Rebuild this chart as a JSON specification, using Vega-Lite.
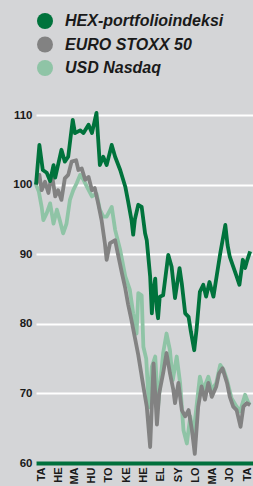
{
  "$schema": "https://vega.github.io/schema/vega-lite/v6.json",
  "autosize": {"type": "none"},
  "padding": {"left": 36, "top": 115, "right": 0, "bottom": 23},
  "width": 217,
  "height": 348,
  "background": "#d4d5d7",
  "config": {"view": {"stroke": null}},
  "data": {"values": [
    {"s":"USD Nasdaq","d":"2002-01-01","v":100},
    {"s":"USD Nasdaq","d":"2002-01-06","v":99},
    {"s":"USD Nasdaq","d":"2002-01-11","v":96.8},
    {"s":"USD Nasdaq","d":"2002-01-14","v":94.9},
    {"s":"USD Nasdaq","d":"2002-01-20","v":95.9},
    {"s":"USD Nasdaq","d":"2002-01-26","v":97.3},
    {"s":"USD Nasdaq","d":"2002-02-01","v":94.4},
    {"s":"USD Nasdaq","d":"2002-02-07","v":96.4},
    {"s":"USD Nasdaq","d":"2002-02-12","v":94.9},
    {"s":"USD Nasdaq","d":"2002-02-18","v":93},
    {"s":"USD Nasdaq","d":"2002-02-24","v":94.4},
    {"s":"USD Nasdaq","d":"2002-03-02","v":97.8},
    {"s":"USD Nasdaq","d":"2002-03-08","v":99.2},
    {"s":"USD Nasdaq","d":"2002-03-14","v":100.2},
    {"s":"USD Nasdaq","d":"2002-03-20","v":101.4},
    {"s":"USD Nasdaq","d":"2002-03-26","v":100.7},
    {"s":"USD Nasdaq","d":"2002-04-01","v":99.7},
    {"s":"USD Nasdaq","d":"2002-04-10","v":98.3},
    {"s":"USD Nasdaq","d":"2002-04-18","v":98.7},
    {"s":"USD Nasdaq","d":"2002-04-24","v":96.4},
    {"s":"USD Nasdaq","d":"2002-04-30","v":95.4},
    {"s":"USD Nasdaq","d":"2002-05-06","v":95.4},
    {"s":"USD Nasdaq","d":"2002-05-15","v":96.8},
    {"s":"USD Nasdaq","d":"2002-05-21","v":93.5},
    {"s":"USD Nasdaq","d":"2002-05-30","v":90.6},
    {"s":"USD Nasdaq","d":"2002-06-08","v":86.8},
    {"s":"USD Nasdaq","d":"2002-06-16","v":84.9},
    {"s":"USD Nasdaq","d":"2002-06-22","v":81.5},
    {"s":"USD Nasdaq","d":"2002-06-28","v":78.6},
    {"s":"USD Nasdaq","d":"2002-07-01","v":84.4},
    {"s":"USD Nasdaq","d":"2002-07-07","v":84.1},
    {"s":"USD Nasdaq","d":"2002-07-10","v":76.7},
    {"s":"USD Nasdaq","d":"2002-07-15","v":75},
    {"s":"USD Nasdaq","d":"2002-07-20","v":68},
    {"s":"USD Nasdaq","d":"2002-07-25","v":73.8},
    {"s":"USD Nasdaq","d":"2002-07-31","v":75.3},
    {"s":"USD Nasdaq","d":"2002-08-05","v":68.1},
    {"s":"USD Nasdaq","d":"2002-08-14","v":75.8},
    {"s":"USD Nasdaq","d":"2002-08-20","v":78.6},
    {"s":"USD Nasdaq","d":"2002-08-26","v":76.2},
    {"s":"USD Nasdaq","d":"2002-08-31","v":71.9},
    {"s":"USD Nasdaq","d":"2002-09-07","v":75.3},
    {"s":"USD Nasdaq","d":"2002-09-13","v":71.5},
    {"s":"USD Nasdaq","d":"2002-09-19","v":64.7},
    {"s":"USD Nasdaq","d":"2002-09-25","v":62.8},
    {"s":"USD Nasdaq","d":"2002-10-01","v":66.7},
    {"s":"USD Nasdaq","d":"2002-10-06","v":63.8},
    {"s":"USD Nasdaq","d":"2002-10-12","v":68.1},
    {"s":"USD Nasdaq","d":"2002-10-18","v":72.4},
    {"s":"USD Nasdaq","d":"2002-10-24","v":70.5},
    {"s":"USD Nasdaq","d":"2002-11-02","v":72.4},
    {"s":"USD Nasdaq","d":"2002-11-08","v":70.5},
    {"s":"USD Nasdaq","d":"2002-11-16","v":71.5},
    {"s":"USD Nasdaq","d":"2002-11-23","v":74.1},
    {"s":"USD Nasdaq","d":"2002-11-29","v":73.4},
    {"s":"USD Nasdaq","d":"2002-12-05","v":71.9},
    {"s":"USD Nasdaq","d":"2002-12-13","v":69.3},
    {"s":"USD Nasdaq","d":"2002-12-22","v":68.1},
    {"s":"USD Nasdaq","d":"2002-12-28","v":67.4},
    {"s":"USD Nasdaq","d":"2003-01-06","v":69.8},
    {"s":"USD Nasdaq","d":"2003-01-12","v":68.6},
    {"s":"USD Nasdaq","d":"2003-01-15","v":68.8},

    {"s":"EURO STOXX 50","d":"2002-01-01","v":100},
    {"s":"EURO STOXX 50","d":"2002-01-07","v":101.4},
    {"s":"EURO STOXX 50","d":"2002-01-11","v":99.2},
    {"s":"EURO STOXX 50","d":"2002-01-17","v":100.4},
    {"s":"EURO STOXX 50","d":"2002-01-23","v":98.8},
    {"s":"EURO STOXX 50","d":"2002-01-29","v":101.6},
    {"s":"EURO STOXX 50","d":"2002-02-04","v":98.3},
    {"s":"EURO STOXX 50","d":"2002-02-09","v":99.2},
    {"s":"EURO STOXX 50","d":"2002-02-15","v":97.8},
    {"s":"EURO STOXX 50","d":"2002-02-21","v":100.9},
    {"s":"EURO STOXX 50","d":"2002-02-27","v":101.4},
    {"s":"EURO STOXX 50","d":"2002-03-05","v":103.3},
    {"s":"EURO STOXX 50","d":"2002-03-13","v":103.5},
    {"s":"EURO STOXX 50","d":"2002-03-17","v":102.1},
    {"s":"EURO STOXX 50","d":"2002-03-23","v":102.3},
    {"s":"EURO STOXX 50","d":"2002-03-29","v":100.7},
    {"s":"EURO STOXX 50","d":"2002-04-04","v":101.1},
    {"s":"EURO STOXX 50","d":"2002-04-10","v":99.2},
    {"s":"EURO STOXX 50","d":"2002-04-15","v":99.5},
    {"s":"EURO STOXX 50","d":"2002-04-21","v":97.3},
    {"s":"EURO STOXX 50","d":"2002-04-27","v":94.9},
    {"s":"EURO STOXX 50","d":"2002-05-03","v":91.5},
    {"s":"EURO STOXX 50","d":"2002-05-06","v":89.2},
    {"s":"EURO STOXX 50","d":"2002-05-12","v":91.6},
    {"s":"EURO STOXX 50","d":"2002-05-21","v":92},
    {"s":"EURO STOXX 50","d":"2002-05-27","v":89.6},
    {"s":"EURO STOXX 50","d":"2002-06-02","v":87.3},
    {"s":"EURO STOXX 50","d":"2002-06-08","v":85.1},
    {"s":"EURO STOXX 50","d":"2002-06-13","v":82.8},
    {"s":"EURO STOXX 50","d":"2002-06-19","v":80.5},
    {"s":"EURO STOXX 50","d":"2002-06-25","v":78},
    {"s":"EURO STOXX 50","d":"2002-07-01","v":75.5},
    {"s":"EURO STOXX 50","d":"2002-07-10","v":71},
    {"s":"EURO STOXX 50","d":"2002-07-16","v":68.1},
    {"s":"EURO STOXX 50","d":"2002-07-22","v":62.3},
    {"s":"EURO STOXX 50","d":"2002-07-28","v":74.3},
    {"s":"EURO STOXX 50","d":"2002-08-03","v":65.5},
    {"s":"EURO STOXX 50","d":"2002-08-07","v":70},
    {"s":"EURO STOXX 50","d":"2002-08-14","v":72.9},
    {"s":"EURO STOXX 50","d":"2002-08-20","v":75.8},
    {"s":"EURO STOXX 50","d":"2002-08-26","v":72.9},
    {"s":"EURO STOXX 50","d":"2002-09-01","v":70.5},
    {"s":"EURO STOXX 50","d":"2002-09-04","v":68.6},
    {"s":"EURO STOXX 50","d":"2002-09-10","v":71.5},
    {"s":"EURO STOXX 50","d":"2002-09-16","v":67.6},
    {"s":"EURO STOXX 50","d":"2002-09-22","v":66.7},
    {"s":"EURO STOXX 50","d":"2002-09-28","v":67.6},
    {"s":"EURO STOXX 50","d":"2002-10-04","v":64.7},
    {"s":"EURO STOXX 50","d":"2002-10-09","v":61.3},
    {"s":"EURO STOXX 50","d":"2002-10-15","v":68.1},
    {"s":"EURO STOXX 50","d":"2002-10-21","v":71},
    {"s":"EURO STOXX 50","d":"2002-10-27","v":69.1},
    {"s":"EURO STOXX 50","d":"2002-11-02","v":71.5},
    {"s":"EURO STOXX 50","d":"2002-11-08","v":69.5},
    {"s":"EURO STOXX 50","d":"2002-11-16","v":71},
    {"s":"EURO STOXX 50","d":"2002-11-21","v":72.9},
    {"s":"EURO STOXX 50","d":"2002-11-27","v":73.6},
    {"s":"EURO STOXX 50","d":"2002-12-05","v":71.5},
    {"s":"EURO STOXX 50","d":"2002-12-10","v":69.5},
    {"s":"EURO STOXX 50","d":"2002-12-16","v":68.1},
    {"s":"EURO STOXX 50","d":"2002-12-22","v":67.6},
    {"s":"EURO STOXX 50","d":"2002-12-29","v":65.2},
    {"s":"EURO STOXX 50","d":"2003-01-03","v":68.1},
    {"s":"EURO STOXX 50","d":"2003-01-09","v":68.6},
    {"s":"EURO STOXX 50","d":"2003-01-15","v":68.3},

    {"s":"HEX-portfolioindeksi","d":"2002-01-01","v":100},
    {"s":"HEX-portfolioindeksi","d":"2002-01-07","v":105.7},
    {"s":"HEX-portfolioindeksi","d":"2002-01-13","v":102.1},
    {"s":"HEX-portfolioindeksi","d":"2002-01-20","v":101.7},
    {"s":"HEX-portfolioindeksi","d":"2002-01-26","v":100.5},
    {"s":"HEX-portfolioindeksi","d":"2002-02-01","v":102.8},
    {"s":"HEX-portfolioindeksi","d":"2002-02-04","v":101},
    {"s":"HEX-portfolioindeksi","d":"2002-02-15","v":105},
    {"s":"HEX-portfolioindeksi","d":"2002-02-21","v":103.3},
    {"s":"HEX-portfolioindeksi","d":"2002-02-27","v":104},
    {"s":"HEX-portfolioindeksi","d":"2002-03-07","v":109.3},
    {"s":"HEX-portfolioindeksi","d":"2002-03-11","v":107.4},
    {"s":"HEX-portfolioindeksi","d":"2002-03-20","v":107.8},
    {"s":"HEX-portfolioindeksi","d":"2002-03-26","v":107.4},
    {"s":"HEX-portfolioindeksi","d":"2002-04-04","v":108.6},
    {"s":"HEX-portfolioindeksi","d":"2002-04-10","v":107.4},
    {"s":"HEX-portfolioindeksi","d":"2002-04-18","v":110.3},
    {"s":"HEX-portfolioindeksi","d":"2002-04-24","v":102.8},
    {"s":"HEX-portfolioindeksi","d":"2002-04-30","v":104},
    {"s":"HEX-portfolioindeksi","d":"2002-05-06","v":102.8},
    {"s":"HEX-portfolioindeksi","d":"2002-05-15","v":105.7},
    {"s":"HEX-portfolioindeksi","d":"2002-05-21","v":104},
    {"s":"HEX-portfolioindeksi","d":"2002-05-30","v":102.1},
    {"s":"HEX-portfolioindeksi","d":"2002-06-08","v":99.7},
    {"s":"HEX-portfolioindeksi","d":"2002-06-13","v":97.6},
    {"s":"HEX-portfolioindeksi","d":"2002-06-19","v":94.9},
    {"s":"HEX-portfolioindeksi","d":"2002-06-22","v":92.8},
    {"s":"HEX-portfolioindeksi","d":"2002-06-25","v":95},
    {"s":"HEX-portfolioindeksi","d":"2002-07-01","v":97.1},
    {"s":"HEX-portfolioindeksi","d":"2002-07-07","v":96.8},
    {"s":"HEX-portfolioindeksi","d":"2002-07-13","v":93},
    {"s":"HEX-portfolioindeksi","d":"2002-07-16","v":92},
    {"s":"HEX-portfolioindeksi","d":"2002-07-22","v":86.8},
    {"s":"HEX-portfolioindeksi","d":"2002-07-25","v":81.5},
    {"s":"HEX-portfolioindeksi","d":"2002-07-28","v":84.9},
    {"s":"HEX-portfolioindeksi","d":"2002-07-31","v":86.5},
    {"s":"HEX-portfolioindeksi","d":"2002-08-03","v":82},
    {"s":"HEX-portfolioindeksi","d":"2002-08-05","v":80.8},
    {"s":"HEX-portfolioindeksi","d":"2002-08-08","v":83.9},
    {"s":"HEX-portfolioindeksi","d":"2002-08-14","v":84.1},
    {"s":"HEX-portfolioindeksi","d":"2002-08-23","v":89.9},
    {"s":"HEX-portfolioindeksi","d":"2002-08-29","v":88.2},
    {"s":"HEX-portfolioindeksi","d":"2002-09-04","v":83.7},
    {"s":"HEX-portfolioindeksi","d":"2002-09-12","v":88},
    {"s":"HEX-portfolioindeksi","d":"2002-09-16","v":85.8},
    {"s":"HEX-portfolioindeksi","d":"2002-09-22","v":81.5},
    {"s":"HEX-portfolioindeksi","d":"2002-09-28","v":81},
    {"s":"HEX-portfolioindeksi","d":"2002-10-02","v":78.9},
    {"s":"HEX-portfolioindeksi","d":"2002-10-08","v":76.2},
    {"s":"HEX-portfolioindeksi","d":"2002-10-12","v":79.1},
    {"s":"HEX-portfolioindeksi","d":"2002-10-18","v":84.6},
    {"s":"HEX-portfolioindeksi","d":"2002-10-24","v":85.6},
    {"s":"HEX-portfolioindeksi","d":"2002-10-29","v":83.9},
    {"s":"HEX-portfolioindeksi","d":"2002-11-04","v":86},
    {"s":"HEX-portfolioindeksi","d":"2002-11-11","v":83.9},
    {"s":"HEX-portfolioindeksi","d":"2002-11-17","v":87},
    {"s":"HEX-portfolioindeksi","d":"2002-11-23","v":90.1},
    {"s":"HEX-portfolioindeksi","d":"2002-12-02","v":94.2},
    {"s":"HEX-portfolioindeksi","d":"2002-12-06","v":91.3},
    {"s":"HEX-portfolioindeksi","d":"2002-12-10","v":89.6},
    {"s":"HEX-portfolioindeksi","d":"2002-12-16","v":88.2},
    {"s":"HEX-portfolioindeksi","d":"2002-12-22","v":86.8},
    {"s":"HEX-portfolioindeksi","d":"2002-12-27","v":85.6},
    {"s":"HEX-portfolioindeksi","d":"2003-01-02","v":89.2},
    {"s":"HEX-portfolioindeksi","d":"2003-01-06","v":88},
    {"s":"HEX-portfolioindeksi","d":"2003-01-10","v":89.2},
    {"s":"HEX-portfolioindeksi","d":"2003-01-15","v":90.4}
  ]},
  "encoding": {
    "x": {
      "field": "d", "type": "temporal",
      "scale": {"type": "utc", "domain": ["2002-01-01", "2003-01-20"], "nice": false},
      "axis": {
        "title": null,
        "tickCount": {"interval": "month", "step": 1},
        "labelExpr": "['TA','HE','MA','HU','TO','KE','HE','EL','SY','LO','MA','JO'][utcmonth(datum.value)]",
        "labelAngle": 270,
        "labelOffset": 5,
        "labelPadding": 4,
        "labelOverlap": false,
        "labelFlush": false,
        "labelBound": false,
        "ticks": false,
        "grid": false,
        "domainColor": "#00703c",
        "domainWidth": 4,
        "labelFont": "Liberation Sans",
        "labelFontWeight": "bold",
        "labelFontSize": 11,
        "labelColor": "#1a1a1a",
        "encode": {
          "labels": {
            "update": {
              "angle": {"value": 270},
              "align": {"value": "right"},
              "baseline": {"value": "middle"}
            }
          }
        }
      }
    },
    "y": {
      "field": "v", "type": "quantitative",
      "scale": {"domain": [60, 110], "nice": false, "zero": false},
      "axis": {
        "title": null,
        "values": [60, 70, 80, 90, 100, 110],
        "grid": true,
        "gridColor": "#ffffff",
        "gridWidth": 2,
        "domain": false,
        "ticks": false,
        "labelFont": "Liberation Sans",
        "labelFontWeight": "bold",
        "labelFontSize": 11.5,
        "labelColor": "#1a1a1a",
        "labelPadding": 4
      }
    },
    "color": {
      "field": "s", "type": "nominal",
      "scale": {
        "domain": ["HEX-portfolioindeksi", "EURO STOXX 50", "USD Nasdaq"],
        "range": ["#00733c", "#828282", "#8fc4a6"]
      },
      "legend": {
        "title": null,
        "orient": "none",
        "legendX": 1,
        "legendY": -102,
        "direction": "vertical",
        "padding": 0,
        "symbolType": "circle",
        "symbolSize": 256,
        "symbolStrokeWidth": 0,
        "symbolOpacity": 1,
        "labelFont": "Liberation Sans",
        "labelFontStyle": "italic",
        "labelFontWeight": "bold",
        "labelFontSize": 16,
        "labelColor": "#1a1a1a",
        "labelOffset": 12,
        "labelLimit": 0,
        "rowPadding": 7.5,
        "encode": {
          "symbols": {
            "update": {
              "fill": {"scale": "color", "field": "value"},
              "strokeWidth": {"value": 0},
              "opacity": {"value": 1}
            }
          }
        }
      }
    }
  },
  "layer": [
    {"transform": [{"filter": "datum.s == 'USD Nasdaq'"}], "mark": {"type": "line", "strokeWidth": 3.8, "strokeJoin": "round", "clip": false}},
    {"transform": [{"filter": "datum.s == 'EURO STOXX 50'"}], "mark": {"type": "line", "strokeWidth": 3.8, "strokeJoin": "round", "clip": false}},
    {"transform": [{"filter": "datum.s == 'HEX-portfolioindeksi'"}], "mark": {"type": "line", "strokeWidth": 3.8, "strokeJoin": "round", "clip": false}}
  ]
}
